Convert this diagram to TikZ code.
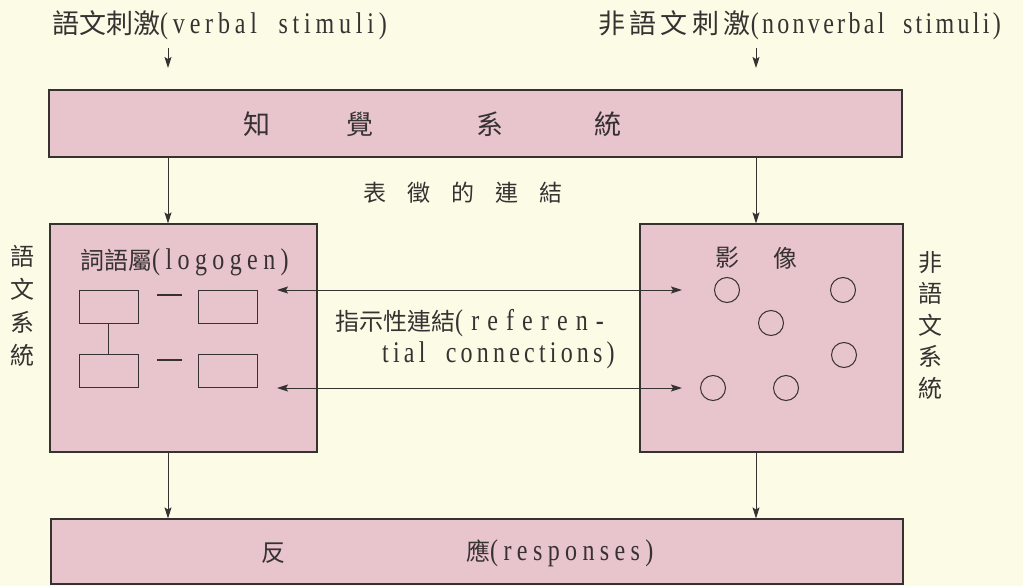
\documentclass[tikz,border=0pt]{standalone}
\usepackage{fontspec}
\setmainfont{Liberation Serif}[FakeStretch=0.8,WordSpace=2]
\newfontfamily\cjk{Noto Sans CJK TC}
\usetikzlibrary{arrows.meta}
\definecolor{bgcream}{RGB}{252,252,230}
\definecolor{pinkbox}{RGB}{232,196,204}
\definecolor{ink}{RGB}{55,50,50}
\newcommand{\latx}[2]{{\fontsize{30}{30}\selectfont\addfontfeature{LetterSpace=#1}#2}}
\newcommand{\cjkt}[2]{{\cjk\fontsize{#1}{#1}\selectfont #2}}
\begin{document}
\begin{tikzpicture}[x=1pt,y=-1pt,
  box/.style={draw=ink, fill=pinkbox, line width=1.1pt, inner sep=0pt},
  sbox/.style={draw=ink, line width=1pt, inner sep=0pt, minimum width=59pt, minimum height=33pt},
  circ/.style={draw=ink, line width=1pt, circle, inner sep=0pt, minimum size=25pt},
  arr/.style={draw=ink, line width=1pt, -{Stealth[length=11pt,width=7pt,inset=2pt]}},
  darr/.style={draw=ink, line width=1pt, {Stealth[length=11pt,width=7pt,inset=2pt]}-{Stealth[length=11pt,width=7pt,inset=2pt]}},
  txt/.style={text=ink, inner sep=0pt}]
\fill[bgcream] (0,0) rectangle (1023,586);
\useasboundingbox (0,0) rectangle (1023,586);

% top labels
\node[txt, anchor=west] (lblV) at (52,25) {\cjkt{27}{語文刺激}\latx{16}{(verbal stimuli)}};
\node[txt, anchor=west] (lblN) at (598,25) {\cjkt{27}{非\hspace{4.4pt}語\hspace{4.4pt}文\hspace{4.4pt}刺\hspace{4.4pt}激}\latx{11}{(nonverbal stimuli)}};
\coordinate (cL) at (168,0);
\coordinate (cR) at (756,0);
\coordinate (aV1) at (168,48);
\coordinate (aV2) at (168,68);
\coordinate (aN1) at (756,48);
\coordinate (aN2) at (756,68);
\draw[arr] (aV1) -- (aV2);
\draw[arr] (aN1) -- (aN2);

% perception box
\node[box, minimum width=853pt, minimum height=67pt] (perc) at (475.5,123.5) {};
\node[txt] (p1) at (257,124) {\cjkt{27}{知}};
\node[txt] (p2) at (360,124) {\cjkt{27}{覺}};
\node[txt] (p3) at (490,124) {\cjkt{27}{系}};
\node[txt] (p4) at (608,124) {\cjkt{27}{統}};

% representational
\node[txt, anchor=west] (rep) at (363,193) {\cjkt{23}{表\hspace{21pt}徵\hspace{21pt}的\hspace{21pt}連\hspace{21pt}結}};

% side boxes
\node[box, minimum width=267pt, minimum height=228pt] (lbox) at (183.5,338) {};
\node[box, minimum width=263pt, minimum height=228pt] (rbox) at (771.5,338) {};
\draw[arr] (perc.south -| cL) -- (lbox.north -| cL);
\draw[arr] (perc.south -| cR) -- (rbox.north -| cR);

% vertical labels
\node[txt, align=center, font=\cjk\fontsize{24}{33}\selectfont] (vsys) at (22,306) {語\\文\\系\\統};
\node[txt, align=center, font=\cjk\fontsize{24}{31.5}\selectfont] (nvsys) at (930,325) {非\\語\\文\\系\\統};

% logogen
\node[txt, anchor=west] (logo) at (80,262) {\cjkt{24}{詞語屬}\latx{18}{(logogen)}};
\node[sbox] (r1) at (108.5,306.5) {};
\node[sbox] (r2) at (228,306.5) {};
\node[sbox] (r3) at (108.5,371) {};
\node[sbox] (r4) at (228,371) {};
\draw[ink, line width=1pt] (r1.south) -- (r3.north);
\coordinate (d1a) at (157,295); \coordinate (d1b) at (182,295);
\coordinate (d2a) at (157,360); \coordinate (d2b) at (182,360);
\draw[ink, line width=2.4pt] (d1a) -- (d1b);
\draw[ink, line width=2.4pt] (d2a) -- (d2b);

% images
\node[txt] (im1) at (727,258) {\cjkt{24}{影}};
\node[txt] (im2) at (785,258) {\cjkt{24}{像}};
\node[circ] (c1) at (727,290) {};
\node[circ] (c2) at (843,290) {};
\node[circ] (c3) at (771,323) {};
\node[circ] (c4) at (844,355) {};
\node[circ] (c5) at (713,388) {};
\node[circ] (c6) at (786,388) {};

% referential connections
\coordinate (h1a) at (277,290); \coordinate (h1b) at (682,290);
\coordinate (h2a) at (277,388); \coordinate (h2b) at (682,388);
\draw[darr] (h1a) -- (h1b);
\draw[darr] (h2a) -- (h2b);
\node[txt, anchor=west] (ref1) at (335,323) {\cjkt{24}{指示性連結}\latx{27}{(referen-}};
\node[txt, anchor=west] (ref2) at (382,355) {\latx{14}{tial connections)}};

% responses
\node[box, minimum width=852pt, minimum height=65pt] (resp) at (477,551.5) {};
\draw[arr] (lbox.south -| cL) -- (resp.north -| cL);
\draw[arr] (rbox.south -| cR) -- (resp.north -| cR);
\node[txt] (rs1) at (273,553) {\cjkt{24}{反}};
\node[txt, anchor=west] (rs2) at (466,553) {\cjkt{24}{應}\latx{18}{(responses)}};
\end{tikzpicture}
\end{document}
